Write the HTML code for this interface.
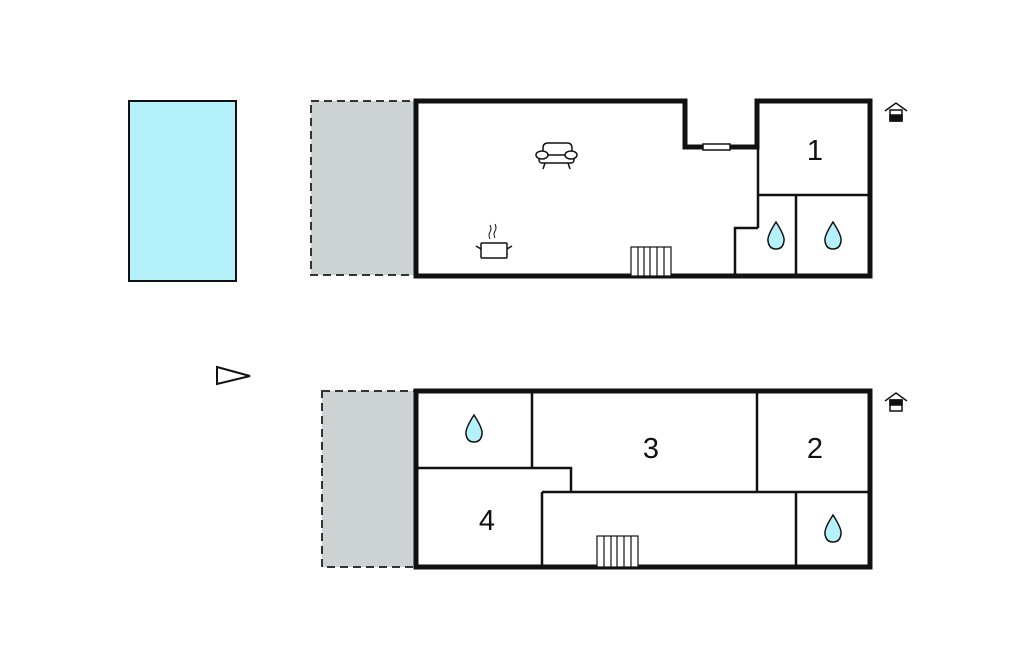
<!DOCTYPE html>
<html><head><meta charset="utf-8"><style>
html,body{margin:0;padding:0;background:#fff;}
svg{display:block;}
text{font-family:"Liberation Sans",sans-serif;font-size:29px;fill:#111;}
</style></head><body>
<svg width="1024" height="652" viewBox="0 0 1024 652" xmlns="http://www.w3.org/2000/svg">
<rect x="129" y="101" width="107" height="180" fill="#b5f1fb" stroke="#111" stroke-width="2"/>
<rect x="311" y="101" width="105" height="174" fill="#cdd3d3" stroke="#333" stroke-width="2" stroke-dasharray="8,5"/>
<rect x="322" y="391" width="94" height="176" fill="#cdd3d3" stroke="#333" stroke-width="2" stroke-dasharray="8,5"/>
<polygon points="217,367 250,376 217,384" fill="#fff" stroke="#111" stroke-width="2"/>

<!-- top floor -->
<g fill="none" stroke="#111" stroke-width="2.5">
<line x1="758" y1="147" x2="758" y2="228"/>
<polyline points="758,228 735,228 735,276"/>
<line x1="758" y1="195" x2="870" y2="195"/>
<line x1="796" y1="195" x2="796" y2="276"/>
</g>
<polygon points="416,101 685,101 685,147 757,147 757,101 870,101 870,276 416,276" fill="none" stroke="#111" stroke-width="5"/>
<rect x="703" y="144" width="27" height="6" fill="#fff" stroke="#111" stroke-width="1.5"/>
<text x="815" y="160" text-anchor="middle">1</text>
<!-- sofa -->
<g fill="#fff" stroke="#111" stroke-width="1.5">
<path d="M543,155 v-7 q0,-5 5,-5 h19 q5,0 5,5 v7"/>
<rect x="539" y="155" width="35" height="8" rx="3"/>
<ellipse cx="542" cy="155" rx="6" ry="4"/>
<ellipse cx="571" cy="155" rx="6" ry="4"/>
<line x1="545" y1="163" x2="543" y2="169"/><line x1="568" y1="163" x2="570" y2="169"/>
</g>
<!-- pot -->
<g fill="#fff" stroke="#111" stroke-width="1.5">
<rect x="481" y="243" width="26" height="15" rx="1"/>
<line x1="476" y1="246" x2="481" y2="249"/><line x1="512" y1="246" x2="507" y2="249"/>
<path d="M490,239 q-2,-4 0,-7 q2,-3 0,-7 M495,238 q-2,-4 0,-7 q2,-3 0,-7" fill="none" stroke-width="1"/>
</g>
<!-- stairs -->
<g fill="#fff" stroke="#111" stroke-width="1.2">
<rect x="631" y="247" width="40" height="29"/>
<path d="M638,247v29M644,247v29M650,247v29M657,247v29M664,247v29"/>
</g>
<g fill="#b5f1fb" stroke="#111" stroke-width="1.5">
<path d="M776,222 q-9,14 -8,19 q1,8 8,8 q7,0 8,-8 q1,-5 -8,-19z"/>
<path d="M833,222 q-9,14 -8,19 q1,8 8,8 q7,0 8,-8 q1,-5 -8,-19z"/>
<path d="M474,415 q-9,14 -8,19 q1,8 8,8 q7,0 8,-8 q1,-5 -8,-19z"/>
<path d="M833,515 q-9,14 -8,19 q1,8 8,8 q7,0 8,-8 q1,-5 -8,-19z"/>
</g>

<!-- bottom floor -->
<g fill="none" stroke="#111" stroke-width="2.5">
<line x1="532" y1="391" x2="532" y2="468"/>
<polyline points="416,468 571,468 571,492"/>
<line x1="542" y1="492" x2="870" y2="492"/>
<line x1="542" y1="492" x2="542" y2="567"/>
<line x1="757" y1="391" x2="757" y2="492"/>
<line x1="796" y1="492" x2="796" y2="567"/>
</g>
<rect x="416" y="391" width="454" height="176" fill="none" stroke="#111" stroke-width="5"/>
<g fill="#fff" stroke="#111" stroke-width="1.2">
<rect x="597" y="536" width="41" height="31"/>
<path d="M604,536v31M611,536v31M617,536v31M624,536v31M631,536v31"/>
</g>
<text x="651" y="458" text-anchor="middle">3</text>
<text x="815" y="458" text-anchor="middle">2</text>
<text x="487" y="530" text-anchor="middle">4</text>

<!-- house icons -->
<g stroke="#111" stroke-width="1.5">
<polyline points="885,111 896,103 907,111" fill="none"/>
<rect x="890" y="110" width="12" height="11" fill="#fff"/>
<rect x="890" y="115" width="12" height="6" fill="#111"/>
<polyline points="885,401 896,393 907,401" fill="none"/>
<rect x="890" y="400" width="12" height="11" fill="#fff"/>
<rect x="890" y="400" width="12" height="5" fill="#111"/>
</g>
</svg>
</body></html>
